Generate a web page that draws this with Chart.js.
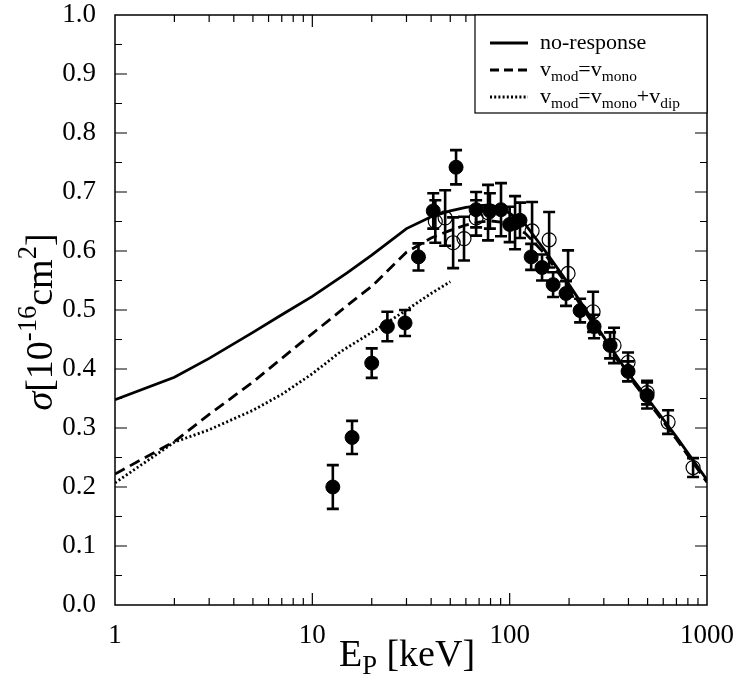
<!DOCTYPE html>
<html>
<head>
<meta charset="utf-8">
<script src="https://cdn.jsdelivr.net/npm/chart.js@4.4.1/dist/chart.umd.min.js"></script>
<style>
  html, body { margin: 0; padding: 0; background: #fff; }
  #wrap { width: 734px; height: 683px; }
</style>
</head>
<body>
<div id="wrap"><canvas id="c" width="734" height="683"></canvas></div>
<script>
// theory curves (energy in keV, sigma in 1e-16 cm^2)
const noRespE = [1, 2, 3, 5, 7, 10, 15, 20, 30, 40, 50, 60, 70, 80, 90, 100, 120, 150, 200, 300, 400, 500, 700, 1000];
const noRespS = [0.348, 0.386, 0.418, 0.462, 0.492, 0.523, 0.563, 0.593, 0.638, 0.658, 0.668, 0.674, 0.677, 0.678, 0.673, 0.664, 0.645, 0.602, 0.543, 0.454, 0.392, 0.350, 0.285, 0.212];

const monoE = [1, 2, 3, 5, 8, 10, 17, 20, 30, 40, 50, 60, 70, 80, 90, 100, 120, 150, 200, 300, 400, 500, 700, 1000];
const monoS = [0.222, 0.277, 0.323, 0.378, 0.434, 0.460, 0.522, 0.540, 0.598, 0.622, 0.635, 0.644, 0.649, 0.651, 0.649, 0.645, 0.630, 0.596, 0.538, 0.449, 0.388, 0.346, 0.281, 0.208];

const dipE = [1, 2, 3, 5, 7, 10, 14, 20, 30, 40, 50];
const dipS = [0.207, 0.276, 0.297, 0.330, 0.357, 0.392, 0.430, 0.462, 0.500, 0.528, 0.548];

// measurements, filled symbols
const fullE = [12.7, 15.9, 20.0, 24.0, 29.5, 34.5, 41.0, 53.5, 67.6, 79.4, 90.4, 100, 106.5, 112.8, 128.5, 145.9, 166, 193, 227.5, 267.8, 322.8, 398, 497];
const fullS = [0.200, 0.284, 0.410, 0.472, 0.478, 0.590, 0.668, 0.742, 0.670, 0.668, 0.670, 0.645, 0.648, 0.652, 0.590, 0.572, 0.543, 0.528, 0.499, 0.472, 0.440, 0.396, 0.355];
const fullErr = [0.037, 0.028, 0.025, 0.025, 0.022, 0.023, 0.030, 0.029, 0.030, 0.030, 0.045, 0.030, 0.045, 0.030, 0.022, 0.022, 0.021, 0.021, 0.020, 0.020, 0.022, 0.017, 0.022];

// measurements, open symbols
const openE = [42, 47.1, 51.7, 58.7, 67.6, 77.7, 129.9, 158.5, 197.7, 264.7, 338, 398, 497, 635, 850];
const openS = [0.650, 0.656, 0.614, 0.621, 0.656, 0.665, 0.634, 0.619, 0.562, 0.497, 0.440, 0.411, 0.360, 0.310, 0.233];
const openErr = [0.036, 0.047, 0.043, 0.037, 0.030, 0.047, 0.049, 0.047, 0.039, 0.034, 0.030, 0.017, 0.020, 0.020, 0.016];

const xMajor = [1, 10, 100, 1000];
const yTickStep = 0.1;

const SERIF = '"Liberation Serif", "DejaVu Serif", serif';

const pts = (xs, ys) => xs.map((x, i) => ({ x, y: ys[i] }));

// draw text made of pieces with sub/superscripts, returns width
function richText(ctx, parts, x, y, size, measureOnly) {
  let cx = x;
  parts.forEach((p) => {
    const s = p.sub || p.sup ? size * 0.7 : size;
    ctx.font = (p.italic ? "italic " : "") + s + "px " + SERIF;
    const dy = p.sub ? size * 0.22 : p.sup ? -size * 0.42 : 0;
    if (!measureOnly) ctx.fillText(p.t, cx, y + dy);
    cx += ctx.measureText(p.t).width;
  });
  return cx - x;
}

const decorations = {
  id: "decorations",
  afterDatasetsDraw(chart) {
    const { ctx, scales } = chart;
    // error bars
    chart.data.datasets.forEach((ds) => {
      if (!ds.err) return;
      ctx.save();
      ctx.strokeStyle = "#000";
      ctx.lineWidth = 2.6;
      ds.data.forEach((p, j) => {
        const px = scales.x.getPixelForValue(p.x);
        const y0 = scales.y.getPixelForValue(p.y - ds.err[j]);
        const y1 = scales.y.getPixelForValue(p.y + ds.err[j]);
        ctx.beginPath();
        ctx.moveTo(px, y0);
        ctx.lineTo(px, y1);
        ctx.moveTo(px - 6, y0);
        ctx.lineTo(px + 6, y0);
        ctx.moveTo(px - 6, y1);
        ctx.lineTo(px + 6, y1);
        ctx.stroke();
      });
      ctx.restore();
    });
  },
  afterDraw(chart) {
    const { ctx, chartArea: a, scales } = chart;
    ctx.save();
    ctx.strokeStyle = "#000";
    ctx.fillStyle = "#000";
    ctx.lineWidth = 1.5;
    ctx.strokeRect(a.left, a.top, a.right - a.left, a.bottom - a.top);

    // inward ticks on all four sides
    ctx.lineWidth = 1.2;
    ctx.beginPath();
    xMajor.forEach((d, k) => {
      for (let m = 1; m <= 9; m++) {
        const v = d * m;
        if (v > 1000 || (m === 1 && (k === 0 || k === 3))) continue;
        const px = scales.x.getPixelForValue(v);
        const len = m === 1 ? 12 : 7;
        ctx.moveTo(px, a.bottom);
        ctx.lineTo(px, a.bottom - len);
        ctx.moveTo(px, a.top);
        ctx.lineTo(px, a.top + len);
      }
    });
    for (let k = 1; k < 20; k++) {
      const py = scales.y.getPixelForValue(k * yTickStep / 2);
      const len = k % 2 === 0 ? 12 : 7;
      ctx.moveTo(a.left, py);
      ctx.lineTo(a.left + len, py);
      ctx.moveTo(a.right, py);
      ctx.lineTo(a.right - len, py);
    }
    ctx.stroke();

    // axis titles
    ctx.textBaseline = "alphabetic";
    const xt = [{ t: "E" }, { t: "P", sub: true }, { t: " [keV]" }];
    const wx = richText(ctx, xt, 0, 0, 38, true);
    richText(ctx, xt, (a.left + a.right) / 2 - wx / 2 - 4, 666, 38);

    ctx.save();
    ctx.translate(52, (a.top + a.bottom) / 2 + 12);
    ctx.rotate(-Math.PI / 2);
    const yt = [{ t: "σ", italic: true }, { t: "[10" }, { t: "-16", sup: true }, { t: "cm" }, { t: "2", sup: true }, { t: "]" }];
    const wy = richText(ctx, yt, 0, 0, 38, true);
    richText(ctx, yt, -wy / 2, 0, 38);
    ctx.restore();

    // legend
    const lx = 475, ly = a.top, lw = a.right - lx, lh = 98;
    ctx.lineWidth = 1.2;
    ctx.fillStyle = "#fff";
    ctx.fillRect(lx, ly, lw, lh);
    ctx.strokeRect(lx, ly, lw, lh);
    ctx.fillStyle = "#000";
    const rows = [
      { dash: [], parts: [{ t: "no-response" }] },
      { dash: [9, 5], parts: [{ t: "v" }, { t: "mod", sub: true }, { t: "=v" }, { t: "mono", sub: true }] },
      { dash: [2, 2.2], parts: [{ t: "v" }, { t: "mod", sub: true }, { t: "=v" }, { t: "mono", sub: true }, { t: "+v" }, { t: "dip", sub: true }] },
    ];
    rows.forEach((r, i) => {
      const ry = ly + 28 + i * 27;
      ctx.save();
      ctx.lineWidth = 3;
      ctx.setLineDash(r.dash);
      ctx.beginPath();
      ctx.moveTo(490, ry);
      ctx.lineTo(528, ry);
      ctx.stroke();
      ctx.restore();
      richText(ctx, r.parts, 540, ry + 6, 22);
    });
    ctx.restore();
  },
};

Chart.register(decorations);

const lineDs = (label, xs, ys, dash) => ({
  type: "line",
  label,
  data: pts(xs, ys),
  borderColor: "#000",
  borderWidth: 2.8,
  borderDash: dash,
  pointRadius: 0,
  fill: false,
  tension: 0,
});

const noPad = (s) => {
  s.paddingLeft = 0;
  s.paddingRight = 0;
  s.paddingTop = 0;
  s.paddingBottom = 0;
};

new Chart(document.getElementById("c"), {
  type: "scatter",
  data: {
    datasets: [
      lineDs("no-response", noRespE, noRespS, []),
      lineDs("vmod=vmono", monoE, monoS, [11, 6]),
      lineDs("vmod=vmono+vdip", dipE, dipS, [2, 2.4]),
      {
        label: "open",
        data: pts(openE, openS),
        err: openErr,
        pointRadius: 7,
        pointBackgroundColor: "rgba(0,0,0,0)",
        pointBorderColor: "#000",
        pointBorderWidth: 1.2,
      },
      {
        label: "full",
        data: pts(fullE, fullS),
        err: fullErr,
        pointRadius: 7,
        pointBackgroundColor: "#000",
        pointBorderColor: "#000",
        pointBorderWidth: 1,
      },
    ],
  },
  options: {
    responsive: false,
    animation: false,
    devicePixelRatio: 1,
    layout: { padding: { top: 15, right: 27, left: 0, bottom: 0 } },
    plugins: {
      legend: { display: false },
      tooltip: { enabled: false },
    },
    scales: {
      x: {
        type: "logarithmic",
        min: 1,
        max: 1000,
        afterBuildTicks: (s) => {
          s.ticks = xMajor.map((v) => ({ value: v }));
        },
        afterFit: (s) => {
          s.height = 78;
          noPad(s);
        },
        grid: { display: false },
        border: { display: false },
        ticks: {
          color: "#000",
          font: { family: SERIF, size: 27 },
          padding: 7,
          maxRotation: 0,
          autoSkip: false,
          callback: (v) => String(v),
        },
      },
      y: {
        min: 0,
        max: 1,
        afterFit: (s) => {
          s.width = 115;
          noPad(s);
        },
        grid: { display: false },
        border: { display: false },
        ticks: {
          color: "#000",
          font: { family: SERIF, size: 27 },
          padding: 11,
          stepSize: yTickStep,
          callback: (v) => v.toFixed(1),
        },
      },
    },
  },
});
</script>
</body>
</html>
